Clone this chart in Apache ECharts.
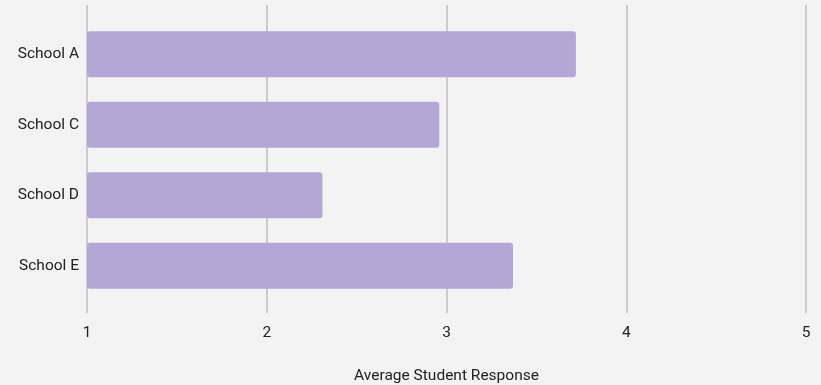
<!DOCTYPE html>
<html>
<head>
<meta charset="utf-8">
<style>
  html, body { margin: 0; padding: 0; background: #f3f3f3; }
  #chart { width: 821px; height: 385px; }
</style>
<script src="https://cdn.jsdelivr.net/npm/echarts@6/dist/echarts.min.js"></script>
</head>
<body>
<div id="chart"></div>
<script>
// Average response per school
const schools = ['School A', 'School C', 'School D', 'School E'];
const avgResponse = [3.72, 2.96, 2.31, 3.37];
const xTicks = [1, 2, 3, 4, 5];

const chart = echarts.init(document.getElementById('chart'));
const textColor = '#222222';
const gridColor = '#cccccc';
const font = 'Roboto, "Noto Sans", sans-serif';
const fontSize = 15.5;

chart.setOption({
  backgroundColor: '#f3f3f3',
  animation: false,
  grid: { left: 87, right: 15, top: 19, bottom: 84, outerBoundsMode: 'none', containLabel: false },
  xAxis: [
    {
      type: 'value',
      position: 'bottom',
      min: xTicks[0],
      max: xTicks[xTicks.length - 1],
      interval: 1,
      name: 'Average Student Response',
      nameLocation: 'middle',
      nameGap: 67,
      nameTextStyle: { color: textColor, fontSize: fontSize, fontFamily: font },
      axisLine: { show: false },
      axisTick: { show: true, length: 12, lineStyle: { color: gridColor, width: 2 } },
      axisLabel: { color: textColor, fontSize: fontSize, fontFamily: font, margin: 24 },
      splitLine: { show: true, lineStyle: { color: gridColor, width: 2 } }
    },
    {
      type: 'value',
      position: 'top',
      min: xTicks[0],
      max: xTicks[xTicks.length - 1],
      interval: 1,
      axisLine: { show: false },
      axisTick: { show: true, length: 14, lineStyle: { color: gridColor, width: 2 } },
      axisLabel: { show: false },
      splitLine: { show: false }
    }
  ],
  yAxis: {
    type: 'category',
    data: schools,
    inverse: true,
    axisLine: { show: false },
    axisTick: { show: false },
    axisLabel: { color: textColor, fontSize: fontSize, fontFamily: font, margin: 8 },
    splitLine: { show: false }
  },
  series: [{
    type: 'bar',
    xAxisIndex: 0,
    data: avgResponse,
    barCategoryGap: '35%',
    itemStyle: { color: '#b4a7d6', borderRadius: 3 }
  }]
});
</script>
</body>
</html>
